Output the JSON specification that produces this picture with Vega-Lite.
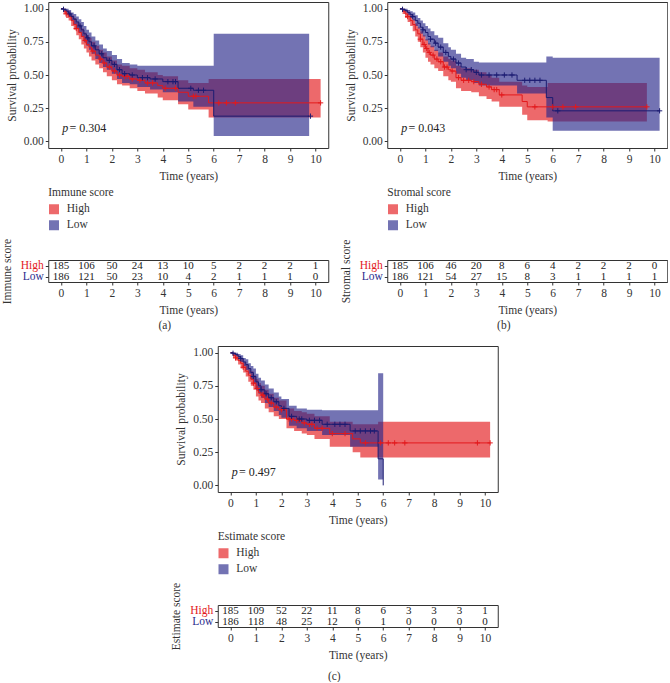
{
  "$schema": "https://vega.github.io/schema/vega-lite/v6.json",
  "padding": {"left": 0, "top": 1, "right": 0, "bottom": 0},
  "background": "white",
  "config": {
    "font": "Liberation Serif",
    "view": {"stroke": "#333", "strokeWidth": 1},
    "axis": {"domain": false, "grid": false, "tickColor": "#333", "tickSize": 3, "labelOverlap": false, "labelFont": "Liberation Serif", "labelFontSize": 11.5, "labelColor": "#333", "titleFont": "Liberation Serif", "titleFontSize": 11.5, "titleFontWeight": "normal", "titleColor": "#333", "labelPadding": 2},
    "legend": {"orient": "bottom", "direction": "vertical", "titleFont": "Liberation Serif", "titleFontSize": 11.5, "titleFontWeight": "normal", "titleColor": "#333", "labelFont": "Liberation Serif", "labelFontSize": 11.5, "labelColor": "#333", "symbolType": "square", "symbolSize": 100, "symbolOpacity": 0.65, "symbolStrokeWidth": 0, "rowPadding": 3, "titlePadding": 5, "offset": 5, "padding": 0, "labelOffset": 7},
    "title": {"font": "Liberation Serif", "fontSize": 11.5, "fontWeight": "normal", "color": "#333"}
  },
  "datasets": {
    "km": [
      {"p":"a","g":"High","t":0,"s":1,"lo":1,"hi":1},{"p":"a","g":"High","t":0.1,"s":0.98,"lo":0.96,"hi":1},{"p":"a","g":"High","t":0.2,"s":0.96,"lo":0.93,"hi":0.99},{"p":"a","g":"High","t":0.3,"s":0.94,"lo":0.91,"hi":0.97},{"p":"a","g":"High","t":0.4,"s":0.91,"lo":0.87,"hi":0.95},{"p":"a","g":"High","t":0.5,"s":0.88,"lo":0.84,"hi":0.93},{"p":"a","g":"High","t":0.6,"s":0.85,"lo":0.8,"hi":0.9},{"p":"a","g":"High","t":0.7,"s":0.82,"lo":0.77,"hi":0.88},{"p":"a","g":"High","t":0.8,"s":0.79,"lo":0.73,"hi":0.85},{"p":"a","g":"High","t":0.9,"s":0.76,"lo":0.7,"hi":0.82},{"p":"a","g":"High","t":1,"s":0.73,"lo":0.67,"hi":0.8},{"p":"a","g":"High","t":1.1,"s":0.71,"lo":0.64,"hi":0.78},{"p":"a","g":"High","t":1.2,"s":0.68,"lo":0.61,"hi":0.75},{"p":"a","g":"High","t":1.35,"s":0.65,"lo":0.58,"hi":0.72},{"p":"a","g":"High","t":1.5,"s":0.62,"lo":0.55,"hi":0.69},{"p":"a","g":"High","t":1.65,"s":0.59,"lo":0.52,"hi":0.67},{"p":"a","g":"High","t":1.8,"s":0.56,"lo":0.49,"hi":0.64},{"p":"a","g":"High","t":2,"s":0.53,"lo":0.46,"hi":0.61},{"p":"a","g":"High","t":2.2,"s":0.5,"lo":0.43,"hi":0.58},{"p":"a","g":"High","t":2.4,"s":0.49,"lo":0.42,"hi":0.57},{"p":"a","g":"High","t":2.7,"s":0.47,"lo":0.4,"hi":0.55},{"p":"a","g":"High","t":3,"s":0.46,"lo":0.38,"hi":0.54},{"p":"a","g":"High","t":3.3,"s":0.44,"lo":0.36,"hi":0.52},{"p":"a","g":"High","t":3.8,"s":0.42,"lo":0.33,"hi":0.5},{"p":"a","g":"High","t":4,"s":0.4,"lo":0.31,"hi":0.49},{"p":"a","g":"High","t":4.6,"s":0.37,"lo":0.28,"hi":0.46},{"p":"a","g":"High","t":5,"s":0.34,"lo":0.24,"hi":0.44},{"p":"a","g":"High","t":5.8,"s":0.29,"lo":0.18,"hi":0.47},{"p":"a","g":"High","t":10.2,"s":0.29,"lo":0.18,"hi":0.47},
      {"p":"a","g":"Low","t":0,"s":1,"lo":1,"hi":1},{"p":"a","g":"Low","t":0.1,"s":0.995,"lo":0.98,"hi":1},{"p":"a","g":"Low","t":0.2,"s":0.98,"lo":0.96,"hi":1},{"p":"a","g":"Low","t":0.3,"s":0.96,"lo":0.94,"hi":0.99},{"p":"a","g":"Low","t":0.4,"s":0.94,"lo":0.91,"hi":0.97},{"p":"a","g":"Low","t":0.5,"s":0.92,"lo":0.88,"hi":0.96},{"p":"a","g":"Low","t":0.6,"s":0.9,"lo":0.85,"hi":0.94},{"p":"a","g":"Low","t":0.7,"s":0.87,"lo":0.82,"hi":0.92},{"p":"a","g":"Low","t":0.8,"s":0.84,"lo":0.79,"hi":0.9},{"p":"a","g":"Low","t":0.9,"s":0.81,"lo":0.75,"hi":0.87},{"p":"a","g":"Low","t":1,"s":0.78,"lo":0.72,"hi":0.84},{"p":"a","g":"Low","t":1.1,"s":0.75,"lo":0.69,"hi":0.82},{"p":"a","g":"Low","t":1.2,"s":0.72,"lo":0.66,"hi":0.79},{"p":"a","g":"Low","t":1.35,"s":0.69,"lo":0.62,"hi":0.76},{"p":"a","g":"Low","t":1.5,"s":0.66,"lo":0.59,"hi":0.73},{"p":"a","g":"Low","t":1.65,"s":0.63,"lo":0.56,"hi":0.7},{"p":"a","g":"Low","t":1.8,"s":0.61,"lo":0.54,"hi":0.68},{"p":"a","g":"Low","t":2,"s":0.58,"lo":0.51,"hi":0.65},{"p":"a","g":"Low","t":2.2,"s":0.54,"lo":0.47,"hi":0.62},{"p":"a","g":"Low","t":2.4,"s":0.51,"lo":0.44,"hi":0.59},{"p":"a","g":"Low","t":2.7,"s":0.5,"lo":0.43,"hi":0.58},{"p":"a","g":"Low","t":3,"s":0.48,"lo":0.41,"hi":0.57},{"p":"a","g":"Low","t":3.5,"s":0.47,"lo":0.39,"hi":0.57},{"p":"a","g":"Low","t":4,"s":0.45,"lo":0.37,"hi":0.57},{"p":"a","g":"Low","t":4.6,"s":0.4,"lo":0.3,"hi":0.57},{"p":"a","g":"Low","t":5.2,"s":0.385,"lo":0.26,"hi":0.57},{"p":"a","g":"Low","t":6,"s":0.19,"lo":0.04,"hi":0.81},{"p":"a","g":"Low","t":9.75,"s":0.19,"lo":0.04,"hi":0.81},
      {"p":"b","g":"High","t":0,"s":1,"lo":1,"hi":1},{"p":"b","g":"High","t":0.1,"s":0.98,"lo":0.96,"hi":1},{"p":"b","g":"High","t":0.2,"s":0.96,"lo":0.93,"hi":0.99},{"p":"b","g":"High","t":0.3,"s":0.94,"lo":0.9,"hi":0.97},{"p":"b","g":"High","t":0.4,"s":0.91,"lo":0.87,"hi":0.95},{"p":"b","g":"High","t":0.5,"s":0.88,"lo":0.83,"hi":0.92},{"p":"b","g":"High","t":0.6,"s":0.84,"lo":0.79,"hi":0.89},{"p":"b","g":"High","t":0.7,"s":0.81,"lo":0.75,"hi":0.86},{"p":"b","g":"High","t":0.8,"s":0.77,"lo":0.71,"hi":0.83},{"p":"b","g":"High","t":0.9,"s":0.73,"lo":0.67,"hi":0.8},{"p":"b","g":"High","t":1,"s":0.7,"lo":0.63,"hi":0.77},{"p":"b","g":"High","t":1.1,"s":0.67,"lo":0.6,"hi":0.74},{"p":"b","g":"High","t":1.2,"s":0.65,"lo":0.58,"hi":0.72},{"p":"b","g":"High","t":1.35,"s":0.62,"lo":0.55,"hi":0.69},{"p":"b","g":"High","t":1.5,"s":0.6,"lo":0.53,"hi":0.67},{"p":"b","g":"High","t":1.7,"s":0.56,"lo":0.49,"hi":0.64},{"p":"b","g":"High","t":1.9,"s":0.54,"lo":0.46,"hi":0.62},{"p":"b","g":"High","t":2,"s":0.53,"lo":0.45,"hi":0.61},{"p":"b","g":"High","t":2.2,"s":0.48,"lo":0.4,"hi":0.57},{"p":"b","g":"High","t":2.4,"s":0.46,"lo":0.38,"hi":0.55},{"p":"b","g":"High","t":2.8,"s":0.45,"lo":0.37,"hi":0.54},{"p":"b","g":"High","t":3.1,"s":0.43,"lo":0.34,"hi":0.52},{"p":"b","g":"High","t":3.4,"s":0.41,"lo":0.32,"hi":0.5},{"p":"b","g":"High","t":3.6,"s":0.39,"lo":0.3,"hi":0.48},{"p":"b","g":"High","t":3.9,"s":0.35,"lo":0.26,"hi":0.45},{"p":"b","g":"High","t":4.8,"s":0.3,"lo":0.2,"hi":0.42},{"p":"b","g":"High","t":5,"s":0.26,"lo":0.16,"hi":0.41},{"p":"b","g":"High","t":5.8,"s":0.26,"lo":0.15,"hi":0.44},{"p":"b","g":"High","t":9.7,"s":0.26,"lo":0.15,"hi":0.44},
      {"p":"b","g":"Low","t":0,"s":1,"lo":1,"hi":1},{"p":"b","g":"Low","t":0.1,"s":0.995,"lo":0.98,"hi":1},{"p":"b","g":"Low","t":0.2,"s":0.985,"lo":0.97,"hi":1},{"p":"b","g":"Low","t":0.3,"s":0.97,"lo":0.95,"hi":0.99},{"p":"b","g":"Low","t":0.4,"s":0.955,"lo":0.93,"hi":0.98},{"p":"b","g":"Low","t":0.5,"s":0.94,"lo":0.91,"hi":0.97},{"p":"b","g":"Low","t":0.6,"s":0.91,"lo":0.87,"hi":0.95},{"p":"b","g":"Low","t":0.7,"s":0.89,"lo":0.85,"hi":0.93},{"p":"b","g":"Low","t":0.8,"s":0.86,"lo":0.81,"hi":0.91},{"p":"b","g":"Low","t":0.9,"s":0.84,"lo":0.79,"hi":0.89},{"p":"b","g":"Low","t":1,"s":0.82,"lo":0.76,"hi":0.87},{"p":"b","g":"Low","t":1.1,"s":0.79,"lo":0.73,"hi":0.85},{"p":"b","g":"Low","t":1.2,"s":0.77,"lo":0.71,"hi":0.83},{"p":"b","g":"Low","t":1.35,"s":0.74,"lo":0.68,"hi":0.8},{"p":"b","g":"Low","t":1.5,"s":0.71,"lo":0.64,"hi":0.78},{"p":"b","g":"Low","t":1.7,"s":0.67,"lo":0.6,"hi":0.74},{"p":"b","g":"Low","t":1.9,"s":0.64,"lo":0.57,"hi":0.71},{"p":"b","g":"Low","t":2,"s":0.62,"lo":0.55,"hi":0.69},{"p":"b","g":"Low","t":2.2,"s":0.59,"lo":0.51,"hi":0.66},{"p":"b","g":"Low","t":2.4,"s":0.56,"lo":0.48,"hi":0.63},{"p":"b","g":"Low","t":2.6,"s":0.54,"lo":0.46,"hi":0.62},{"p":"b","g":"Low","t":2.9,"s":0.52,"lo":0.44,"hi":0.6},{"p":"b","g":"Low","t":3.1,"s":0.5,"lo":0.42,"hi":0.595},{"p":"b","g":"Low","t":4.6,"s":0.46,"lo":0.36,"hi":0.595},{"p":"b","g":"Low","t":5.75,"s":0.33,"lo":0.18,"hi":0.64},{"p":"b","g":"Low","t":6,"s":0.23,"lo":0.08,"hi":0.63},{"p":"b","g":"Low","t":10.2,"s":0.23,"lo":0.08,"hi":0.63},
      {"p":"c","g":"High","t":0,"s":1,"lo":1,"hi":1},{"p":"c","g":"High","t":0.1,"s":0.98,"lo":0.96,"hi":1},{"p":"c","g":"High","t":0.2,"s":0.96,"lo":0.94,"hi":0.99},{"p":"c","g":"High","t":0.3,"s":0.94,"lo":0.91,"hi":0.97},{"p":"c","g":"High","t":0.4,"s":0.92,"lo":0.88,"hi":0.95},{"p":"c","g":"High","t":0.5,"s":0.89,"lo":0.85,"hi":0.93},{"p":"c","g":"High","t":0.6,"s":0.86,"lo":0.82,"hi":0.91},{"p":"c","g":"High","t":0.7,"s":0.83,"lo":0.78,"hi":0.88},{"p":"c","g":"High","t":0.8,"s":0.8,"lo":0.75,"hi":0.86},{"p":"c","g":"High","t":0.9,"s":0.77,"lo":0.72,"hi":0.83},{"p":"c","g":"High","t":1,"s":0.73,"lo":0.67,"hi":0.8},{"p":"c","g":"High","t":1.1,"s":0.7,"lo":0.64,"hi":0.77},{"p":"c","g":"High","t":1.2,"s":0.68,"lo":0.62,"hi":0.75},{"p":"c","g":"High","t":1.35,"s":0.65,"lo":0.58,"hi":0.72},{"p":"c","g":"High","t":1.5,"s":0.62,"lo":0.55,"hi":0.69},{"p":"c","g":"High","t":1.7,"s":0.59,"lo":0.52,"hi":0.66},{"p":"c","g":"High","t":1.9,"s":0.57,"lo":0.5,"hi":0.64},{"p":"c","g":"High","t":2.2,"s":0.5,"lo":0.43,"hi":0.58},{"p":"c","g":"High","t":2.5,"s":0.49,"lo":0.41,"hi":0.56},{"p":"c","g":"High","t":2.8,"s":0.47,"lo":0.39,"hi":0.55},{"p":"c","g":"High","t":3,"s":0.46,"lo":0.38,"hi":0.54},{"p":"c","g":"High","t":3.3,"s":0.43,"lo":0.35,"hi":0.52},{"p":"c","g":"High","t":3.9,"s":0.39,"lo":0.29,"hi":0.48},{"p":"c","g":"High","t":4.8,"s":0.35,"lo":0.25,"hi":0.46},{"p":"c","g":"High","t":5.1,"s":0.32,"lo":0.21,"hi":0.46},{"p":"c","g":"High","t":5.8,"s":0.32,"lo":0.21,"hi":0.48},{"p":"c","g":"High","t":10.2,"s":0.32,"lo":0.21,"hi":0.48},
      {"p":"c","g":"Low","t":0,"s":1,"lo":1,"hi":1},{"p":"c","g":"Low","t":0.1,"s":0.995,"lo":0.98,"hi":1},{"p":"c","g":"Low","t":0.2,"s":0.985,"lo":0.97,"hi":1},{"p":"c","g":"Low","t":0.3,"s":0.97,"lo":0.95,"hi":0.99},{"p":"c","g":"Low","t":0.4,"s":0.955,"lo":0.93,"hi":0.98},{"p":"c","g":"Low","t":0.5,"s":0.93,"lo":0.9,"hi":0.96},{"p":"c","g":"Low","t":0.6,"s":0.91,"lo":0.87,"hi":0.95},{"p":"c","g":"Low","t":0.7,"s":0.88,"lo":0.84,"hi":0.92},{"p":"c","g":"Low","t":0.8,"s":0.85,"lo":0.8,"hi":0.9},{"p":"c","g":"Low","t":0.9,"s":0.82,"lo":0.77,"hi":0.88},{"p":"c","g":"Low","t":1,"s":0.78,"lo":0.72,"hi":0.84},{"p":"c","g":"Low","t":1.1,"s":0.75,"lo":0.69,"hi":0.81},{"p":"c","g":"Low","t":1.2,"s":0.72,"lo":0.66,"hi":0.79},{"p":"c","g":"Low","t":1.35,"s":0.69,"lo":0.62,"hi":0.76},{"p":"c","g":"Low","t":1.5,"s":0.66,"lo":0.59,"hi":0.73},{"p":"c","g":"Low","t":1.7,"s":0.63,"lo":0.56,"hi":0.7},{"p":"c","g":"Low","t":1.9,"s":0.6,"lo":0.53,"hi":0.67},{"p":"c","g":"Low","t":2,"s":0.58,"lo":0.51,"hi":0.65},{"p":"c","g":"Low","t":2.3,"s":0.52,"lo":0.45,"hi":0.6},{"p":"c","g":"Low","t":2.6,"s":0.5,"lo":0.43,"hi":0.58},{"p":"c","g":"Low","t":3,"s":0.49,"lo":0.41,"hi":0.57},{"p":"c","g":"Low","t":3.6,"s":0.46,"lo":0.38,"hi":0.565},{"p":"c","g":"Low","t":4.7,"s":0.41,"lo":0.29,"hi":0.565},{"p":"c","g":"Low","t":5.8,"s":0.2,"lo":0.045,"hi":0.845},{"p":"c","g":"Low","t":6,"s":0,"lo":0,"hi":0}
    ],
    "cens": [
      {"p":"a","g":"High","t":0.2,"s":0.96},{"p":"a","g":"High","t":0.6,"s":0.85},{"p":"a","g":"High","t":0.95,"s":0.76},{"p":"a","g":"High","t":1.25,"s":0.68},{"p":"a","g":"High","t":1.55,"s":0.62},{"p":"a","g":"High","t":1.7,"s":0.59},{"p":"a","g":"High","t":1.9,"s":0.56},{"p":"a","g":"High","t":2.1,"s":0.53},{"p":"a","g":"High","t":2.3,"s":0.5},{"p":"a","g":"High","t":2.5,"s":0.49},{"p":"a","g":"High","t":2.6,"s":0.49},{"p":"a","g":"High","t":2.8,"s":0.47},{"p":"a","g":"High","t":3.1,"s":0.46},{"p":"a","g":"High","t":3.4,"s":0.44},{"p":"a","g":"High","t":3.6,"s":0.44},{"p":"a","g":"High","t":4.1,"s":0.4},{"p":"a","g":"High","t":4.5,"s":0.4},{"p":"a","g":"High","t":5.2,"s":0.34},{"p":"a","g":"High","t":5.3,"s":0.34},{"p":"a","g":"High","t":6.2,"s":0.29},{"p":"a","g":"High","t":6.5,"s":0.29},{"p":"a","g":"High","t":6.85,"s":0.29},{"p":"a","g":"High","t":10.2,"s":0.29},
      {"p":"a","g":"Low","t":0.1,"s":0.995},{"p":"a","g":"Low","t":0.35,"s":0.96},{"p":"a","g":"Low","t":0.75,"s":0.87},{"p":"a","g":"Low","t":1.05,"s":0.78},{"p":"a","g":"Low","t":1.3,"s":0.72},{"p":"a","g":"Low","t":1.6,"s":0.66},{"p":"a","g":"Low","t":1.9,"s":0.61},{"p":"a","g":"Low","t":2.1,"s":0.58},{"p":"a","g":"Low","t":2.3,"s":0.54},{"p":"a","g":"Low","t":2.5,"s":0.51},{"p":"a","g":"Low","t":2.8,"s":0.5},{"p":"a","g":"Low","t":3.2,"s":0.48},{"p":"a","g":"Low","t":3.4,"s":0.48},{"p":"a","g":"Low","t":3.7,"s":0.47},{"p":"a","g":"Low","t":4.2,"s":0.45},{"p":"a","g":"Low","t":4.4,"s":0.45},{"p":"a","g":"Low","t":4.5,"s":0.45},{"p":"a","g":"Low","t":5.1,"s":0.4},{"p":"a","g":"Low","t":5.4,"s":0.385},{"p":"a","g":"Low","t":5.6,"s":0.385},{"p":"a","g":"Low","t":9.8,"s":0.19},
      {"p":"b","g":"High","t":0.3,"s":0.94},{"p":"b","g":"High","t":0.8,"s":0.77},{"p":"b","g":"High","t":0.95,"s":0.73},{"p":"b","g":"High","t":1.05,"s":0.7},{"p":"b","g":"High","t":1.15,"s":0.67},{"p":"b","g":"High","t":1.3,"s":0.65},{"p":"b","g":"High","t":1.45,"s":0.62},{"p":"b","g":"High","t":1.6,"s":0.6},{"p":"b","g":"High","t":1.75,"s":0.56},{"p":"b","g":"High","t":1.85,"s":0.56},{"p":"b","g":"High","t":2.05,"s":0.53},{"p":"b","g":"High","t":2.3,"s":0.48},{"p":"b","g":"High","t":2.5,"s":0.46},{"p":"b","g":"High","t":2.7,"s":0.46},{"p":"b","g":"High","t":2.9,"s":0.45},{"p":"b","g":"High","t":3.2,"s":0.43},{"p":"b","g":"High","t":3.5,"s":0.41},{"p":"b","g":"High","t":3.7,"s":0.39},{"p":"b","g":"High","t":3.8,"s":0.39},{"p":"b","g":"High","t":4,"s":0.35},{"p":"b","g":"High","t":5.3,"s":0.26},{"p":"b","g":"High","t":6,"s":0.26},{"p":"b","g":"High","t":6.4,"s":0.26},{"p":"b","g":"High","t":6.9,"s":0.26},{"p":"b","g":"High","t":9.7,"s":0.26},
      {"p":"b","g":"Low","t":0.1,"s":0.995},{"p":"b","g":"Low","t":0.5,"s":0.94},{"p":"b","g":"Low","t":0.9,"s":0.84},{"p":"b","g":"Low","t":1.2,"s":0.77},{"p":"b","g":"Low","t":1.4,"s":0.74},{"p":"b","g":"Low","t":1.6,"s":0.71},{"p":"b","g":"Low","t":1.8,"s":0.67},{"p":"b","g":"Low","t":2.1,"s":0.62},{"p":"b","g":"Low","t":2.3,"s":0.59},{"p":"b","g":"Low","t":2.6,"s":0.54},{"p":"b","g":"Low","t":2.8,"s":0.54},{"p":"b","g":"Low","t":3,"s":0.52},{"p":"b","g":"Low","t":3.2,"s":0.5},{"p":"b","g":"Low","t":3.5,"s":0.5},{"p":"b","g":"Low","t":3.8,"s":0.5},{"p":"b","g":"Low","t":4.1,"s":0.5},{"p":"b","g":"Low","t":4.4,"s":0.5},{"p":"b","g":"Low","t":4.9,"s":0.46},{"p":"b","g":"Low","t":5.1,"s":0.46},{"p":"b","g":"Low","t":5.3,"s":0.46},{"p":"b","g":"Low","t":5.5,"s":0.46},{"p":"b","g":"Low","t":6.2,"s":0.23},{"p":"b","g":"Low","t":10.2,"s":0.23},
      {"p":"c","g":"High","t":0.2,"s":0.96},{"p":"c","g":"High","t":0.5,"s":0.89},{"p":"c","g":"High","t":0.9,"s":0.77},{"p":"c","g":"High","t":1.05,"s":0.73},{"p":"c","g":"High","t":1.25,"s":0.68},{"p":"c","g":"High","t":1.3,"s":0.68},{"p":"c","g":"High","t":1.45,"s":0.65},{"p":"c","g":"High","t":1.6,"s":0.62},{"p":"c","g":"High","t":1.8,"s":0.59},{"p":"c","g":"High","t":2,"s":0.57},{"p":"c","g":"High","t":2.3,"s":0.5},{"p":"c","g":"High","t":2.4,"s":0.5},{"p":"c","g":"High","t":2.6,"s":0.49},{"p":"c","g":"High","t":2.7,"s":0.49},{"p":"c","g":"High","t":2.9,"s":0.47},{"p":"c","g":"High","t":3.1,"s":0.46},{"p":"c","g":"High","t":3.2,"s":0.46},{"p":"c","g":"High","t":3.4,"s":0.43},{"p":"c","g":"High","t":3.6,"s":0.43},{"p":"c","g":"High","t":4,"s":0.39},{"p":"c","g":"High","t":4.5,"s":0.39},{"p":"c","g":"High","t":5.3,"s":0.32},{"p":"c","g":"High","t":5.9,"s":0.32},{"p":"c","g":"High","t":6.2,"s":0.32},{"p":"c","g":"High","t":6.45,"s":0.32},{"p":"c","g":"High","t":6.85,"s":0.32},{"p":"c","g":"High","t":9.7,"s":0.32},{"p":"c","g":"High","t":10.2,"s":0.32},
      {"p":"c","g":"Low","t":0.1,"s":0.995},{"p":"c","g":"Low","t":0.4,"s":0.955},{"p":"c","g":"Low","t":0.9,"s":0.82},{"p":"c","g":"Low","t":1.2,"s":0.72},{"p":"c","g":"Low","t":1.4,"s":0.69},{"p":"c","g":"Low","t":1.6,"s":0.66},{"p":"c","g":"Low","t":1.8,"s":0.63},{"p":"c","g":"Low","t":2.1,"s":0.58},{"p":"c","g":"Low","t":2.4,"s":0.52},{"p":"c","g":"Low","t":2.7,"s":0.5},{"p":"c","g":"Low","t":2.8,"s":0.5},{"p":"c","g":"Low","t":3.1,"s":0.49},{"p":"c","g":"Low","t":3.3,"s":0.49},{"p":"c","g":"Low","t":3.5,"s":0.49},{"p":"c","g":"Low","t":3.8,"s":0.46},{"p":"c","g":"Low","t":4.1,"s":0.46},{"p":"c","g":"Low","t":4.3,"s":0.46},{"p":"c","g":"Low","t":4.5,"s":0.46},{"p":"c","g":"Low","t":4.9,"s":0.41},{"p":"c","g":"Low","t":5.1,"s":0.41},{"p":"c","g":"Low","t":5.3,"s":0.41},{"p":"c","g":"Low","t":5.5,"s":0.41},{"p":"c","g":"Low","t":5.65,"s":0.41}
    ],
    "pv": [
      {"p":"a","k":"p","t":0.05,"s":0.1,"txt":"p"},{"p":"a","k":"v","t":0.33,"s":0.1,"txt":"= 0.304"},
      {"p":"b","k":"p","t":0.05,"s":0.1,"txt":"p"},{"p":"b","k":"v","t":0.33,"s":0.1,"txt":"= 0.043"},
      {"p":"c","k":"p","t":0.05,"s":0.1,"txt":"p"},{"p":"c","k":"v","t":0.33,"s":0.1,"txt":"= 0.497"}
    ],
    "risk": [
      {"p":"a","g":"High","t":0,"n":185},{"p":"a","g":"High","t":1,"n":106},{"p":"a","g":"High","t":2,"n":50},{"p":"a","g":"High","t":3,"n":24},{"p":"a","g":"High","t":4,"n":13},{"p":"a","g":"High","t":5,"n":10},{"p":"a","g":"High","t":6,"n":5},{"p":"a","g":"High","t":7,"n":2},{"p":"a","g":"High","t":8,"n":2},{"p":"a","g":"High","t":9,"n":2},{"p":"a","g":"High","t":10,"n":1},
      {"p":"a","g":"Low","t":0,"n":186},{"p":"a","g":"Low","t":1,"n":121},{"p":"a","g":"Low","t":2,"n":50},{"p":"a","g":"Low","t":3,"n":23},{"p":"a","g":"Low","t":4,"n":10},{"p":"a","g":"Low","t":5,"n":4},{"p":"a","g":"Low","t":6,"n":2},{"p":"a","g":"Low","t":7,"n":1},{"p":"a","g":"Low","t":8,"n":1},{"p":"a","g":"Low","t":9,"n":1},{"p":"a","g":"Low","t":10,"n":0},
      {"p":"b","g":"High","t":0,"n":185},{"p":"b","g":"High","t":1,"n":106},{"p":"b","g":"High","t":2,"n":46},{"p":"b","g":"High","t":3,"n":20},{"p":"b","g":"High","t":4,"n":8},{"p":"b","g":"High","t":5,"n":6},{"p":"b","g":"High","t":6,"n":4},{"p":"b","g":"High","t":7,"n":2},{"p":"b","g":"High","t":8,"n":2},{"p":"b","g":"High","t":9,"n":2},{"p":"b","g":"High","t":10,"n":0},
      {"p":"b","g":"Low","t":0,"n":186},{"p":"b","g":"Low","t":1,"n":121},{"p":"b","g":"Low","t":2,"n":54},{"p":"b","g":"Low","t":3,"n":27},{"p":"b","g":"Low","t":4,"n":15},{"p":"b","g":"Low","t":5,"n":8},{"p":"b","g":"Low","t":6,"n":3},{"p":"b","g":"Low","t":7,"n":1},{"p":"b","g":"Low","t":8,"n":1},{"p":"b","g":"Low","t":9,"n":1},{"p":"b","g":"Low","t":10,"n":1},
      {"p":"c","g":"High","t":0,"n":185},{"p":"c","g":"High","t":1,"n":109},{"p":"c","g":"High","t":2,"n":52},{"p":"c","g":"High","t":3,"n":22},{"p":"c","g":"High","t":4,"n":11},{"p":"c","g":"High","t":5,"n":8},{"p":"c","g":"High","t":6,"n":6},{"p":"c","g":"High","t":7,"n":3},{"p":"c","g":"High","t":8,"n":3},{"p":"c","g":"High","t":9,"n":3},{"p":"c","g":"High","t":10,"n":1},
      {"p":"c","g":"Low","t":0,"n":186},{"p":"c","g":"Low","t":1,"n":118},{"p":"c","g":"Low","t":2,"n":48},{"p":"c","g":"Low","t":3,"n":25},{"p":"c","g":"Low","t":4,"n":12},{"p":"c","g":"Low","t":5,"n":6},{"p":"c","g":"Low","t":6,"n":1},{"p":"c","g":"Low","t":7,"n":0},{"p":"c","g":"Low","t":8,"n":0},{"p":"c","g":"Low","t":9,"n":0},{"p":"c","g":"Low","t":10,"n":0}
    ]
  },
  "center": true,
  "spacing": 14,
  "resolve": {"scale": {"fill": "independent", "stroke": "independent"}, "legend": {"fill": "independent", "stroke": "independent"}},
  "vconcat": [
    {
      "spacing": 10,
      "resolve": {"scale": {"fill": "independent", "stroke": "independent"}, "legend": {"fill": "independent", "stroke": "independent"}},
      "hconcat": [
        {
          "title": {"text": "(a)", "orient": "bottom", "anchor": "middle", "offset": 3},
          "spacing": 112,
          "bounds": "flush",
          "resolve": {"scale": {"fill": "independent", "stroke": "independent"}, "legend": {"fill": "independent", "stroke": "independent"}},
          "vconcat": [
            {
              "width": 280, "height": 146,
              "encoding": {
                "x": {"field": "t", "type": "quantitative", "scale": {"domain": [-0.5, 10.5], "nice": false, "zero": false}, "axis": {"values": [0,1,2,3,4,5,6,7,8,9,10], "title": "Time (years)", "titlePadding": 6}},
                "y": {"field": "s", "type": "quantitative", "scale": {"domain": [-0.05, 1.05], "nice": false}, "axis": {"values": [0, 0.25, 0.5, 0.75, 1], "format": ".2f", "title": "Survival probability", "titlePadding": 6}}
              },
              "layer": [
                {"data": {"name": "km"}, "transform": [{"filter": "datum.p=='a'"}], "mark": {"type": "area", "interpolate": "step-after", "opacity": 0.65},
                 "encoding": {
                   "y": {"field": "lo", "type": "quantitative", "scale": {"domain": [-0.05, 1.05], "nice": false}, "axis": {"values": [0, 0.25, 0.5, 0.75, 1], "format": ".2f", "title": "Survival probability", "titlePadding": 6}},
                   "y2": {"field": "hi"},
                   "fill": {"field": "g", "type": "nominal", "scale": {"domain": ["High", "Low"], "range": ["#E3191C", "#28288A"]}, "legend": {"title": "Immune score"}}
                 }},
                {"data": {"name": "km"}, "transform": [{"filter": "datum.p=='a'"}], "mark": {"type": "line", "interpolate": "step-after", "strokeWidth": 1},
                 "encoding": {"stroke": {"field": "g", "type": "nominal", "scale": {"domain": ["High", "Low"], "range": ["#E3191C", "#1C1C72"]}, "legend": null}}},
                {"data": {"name": "cens"}, "transform": [{"filter": "datum.p=='a'"}], "mark": {"type": "point", "shape": "M-1,0H1M0,-1V1", "size": 28, "strokeWidth": 1, "filled": false, "opacity": 1},
                 "encoding": {"stroke": {"field": "g", "type": "nominal", "legend": null}}},
                {"data": {"name": "pv"}, "transform": [{"filter": "datum.p=='a' && datum.k=='p'"}], "mark": {"type": "text", "fontStyle": "italic", "fontSize": 12, "align": "left", "color": "#222"},
                 "encoding": {"text": {"field": "txt"}}},
                {"data": {"name": "pv"}, "transform": [{"filter": "datum.p=='a' && datum.k=='v'"}], "mark": {"type": "text", "fontSize": 12, "align": "left", "color": "#222"},
                 "encoding": {"text": {"field": "txt"}}}
              ]
            },
            {
              "width": 280, "height": 22,
              "data": {"name": "risk"}, "transform": [{"filter": "datum.p=='a'"}],
              "mark": {"type": "text", "fontSize": 11, "color": "#222"},
              "encoding": {
                "x": {"field": "t", "type": "quantitative", "scale": {"domain": [-0.5, 10.5], "nice": false, "zero": false}, "axis": {"values": [0,1,2,3,4,5,6,7,8,9,10], "title": "Time (years)", "titlePadding": 6}},
                "y": {"field": "g", "type": "nominal", "scale": {"domain": ["High", "Low"]}, "axis": {"title": "Immune score", "labelFontSize": 11.5, "titlePadding": 8, "labelColor": {"condition": {"test": "datum.value === 'High'", "value": "#E3191C"}, "value": "#2B2B8C"}}},
                "text": {"field": "n"}
              }
            }
          ]
        },
        {
          "title": {"text": "(b)", "orient": "bottom", "anchor": "middle", "offset": 3},
          "spacing": 112,
          "bounds": "flush",
          "resolve": {"scale": {"fill": "independent", "stroke": "independent"}, "legend": {"fill": "independent", "stroke": "independent"}},
          "vconcat": [
            {
              "width": 280, "height": 146,
              "encoding": {
                "x": {"field": "t", "type": "quantitative", "scale": {"domain": [-0.5, 10.5], "nice": false, "zero": false}, "axis": {"values": [0,1,2,3,4,5,6,7,8,9,10], "title": "Time (years)", "titlePadding": 6}},
                "y": {"field": "s", "type": "quantitative", "scale": {"domain": [-0.05, 1.05], "nice": false}, "axis": {"values": [0, 0.25, 0.5, 0.75, 1], "format": ".2f", "title": "Survival probability", "titlePadding": 6}}
              },
              "layer": [
                {"data": {"name": "km"}, "transform": [{"filter": "datum.p=='b'"}], "mark": {"type": "area", "interpolate": "step-after", "opacity": 0.65},
                 "encoding": {
                   "y": {"field": "lo", "type": "quantitative", "scale": {"domain": [-0.05, 1.05], "nice": false}, "axis": {"values": [0, 0.25, 0.5, 0.75, 1], "format": ".2f", "title": "Survival probability", "titlePadding": 6}},
                   "y2": {"field": "hi"},
                   "fill": {"field": "g", "type": "nominal", "scale": {"domain": ["High", "Low"], "range": ["#E3191C", "#28288A"]}, "legend": {"title": "Stromal score"}}
                 }},
                {"data": {"name": "km"}, "transform": [{"filter": "datum.p=='b'"}], "mark": {"type": "line", "interpolate": "step-after", "strokeWidth": 1},
                 "encoding": {"stroke": {"field": "g", "type": "nominal", "scale": {"domain": ["High", "Low"], "range": ["#E3191C", "#1C1C72"]}, "legend": null}}},
                {"data": {"name": "cens"}, "transform": [{"filter": "datum.p=='b'"}], "mark": {"type": "point", "shape": "M-1,0H1M0,-1V1", "size": 28, "strokeWidth": 1, "filled": false, "opacity": 1},
                 "encoding": {"stroke": {"field": "g", "type": "nominal", "legend": null}}},
                {"data": {"name": "pv"}, "transform": [{"filter": "datum.p=='b' && datum.k=='p'"}], "mark": {"type": "text", "fontStyle": "italic", "fontSize": 12, "align": "left", "color": "#222"},
                 "encoding": {"text": {"field": "txt"}}},
                {"data": {"name": "pv"}, "transform": [{"filter": "datum.p=='b' && datum.k=='v'"}], "mark": {"type": "text", "fontSize": 12, "align": "left", "color": "#222"},
                 "encoding": {"text": {"field": "txt"}}}
              ]
            },
            {
              "width": 280, "height": 22,
              "data": {"name": "risk"}, "transform": [{"filter": "datum.p=='b'"}],
              "mark": {"type": "text", "fontSize": 11, "color": "#222"},
              "encoding": {
                "x": {"field": "t", "type": "quantitative", "scale": {"domain": [-0.5, 10.5], "nice": false, "zero": false}, "axis": {"values": [0,1,2,3,4,5,6,7,8,9,10], "title": "Time (years)", "titlePadding": 6}},
                "y": {"field": "g", "type": "nominal", "scale": {"domain": ["High", "Low"]}, "axis": {"title": "Stromal score", "labelFontSize": 11.5, "titlePadding": 8, "labelColor": {"condition": {"test": "datum.value === 'High'", "value": "#E3191C"}, "value": "#2B2B8C"}}},
                "text": {"field": "n"}
              }
            }
          ]
        }
      ]
    },
    {
      "title": {"text": "(c)", "orient": "bottom", "anchor": "middle", "offset": 9},
      "spacing": 113,
      "bounds": "flush",
      "resolve": {"scale": {"fill": "independent", "stroke": "independent"}, "legend": {"fill": "independent", "stroke": "independent"}},
      "vconcat": [
        {
          "width": 280, "height": 146,
          "encoding": {
            "x": {"field": "t", "type": "quantitative", "scale": {"domain": [-0.5, 10.5], "nice": false, "zero": false}, "axis": {"values": [0,1,2,3,4,5,6,7,8,9,10], "title": "Time (years)", "titlePadding": 6}},
            "y": {"field": "s", "type": "quantitative", "scale": {"domain": [-0.05, 1.05], "nice": false}, "axis": {"values": [0, 0.25, 0.5, 0.75, 1], "format": ".2f", "title": "Survival probability", "titlePadding": 6}}
          },
          "layer": [
            {"data": {"name": "km"}, "transform": [{"filter": "datum.p=='c'"}], "mark": {"type": "area", "interpolate": "step-after", "opacity": 0.65},
             "encoding": {
               "y": {"field": "lo", "type": "quantitative", "scale": {"domain": [-0.05, 1.05], "nice": false}, "axis": {"values": [0, 0.25, 0.5, 0.75, 1], "format": ".2f", "title": "Survival probability", "titlePadding": 6}},
               "y2": {"field": "hi"},
               "fill": {"field": "g", "type": "nominal", "scale": {"domain": ["High", "Low"], "range": ["#E3191C", "#28288A"]}, "legend": {"title": "Estimate score"}}
             }},
            {"data": {"name": "km"}, "transform": [{"filter": "datum.p=='c'"}], "mark": {"type": "line", "interpolate": "step-after", "strokeWidth": 1},
             "encoding": {"stroke": {"field": "g", "type": "nominal", "scale": {"domain": ["High", "Low"], "range": ["#E3191C", "#1C1C72"]}, "legend": null}}},
            {"data": {"name": "cens"}, "transform": [{"filter": "datum.p=='c'"}], "mark": {"type": "point", "shape": "M-1,0H1M0,-1V1", "size": 28, "strokeWidth": 1, "filled": false, "opacity": 1},
             "encoding": {"stroke": {"field": "g", "type": "nominal", "legend": null}}},
            {"data": {"name": "pv"}, "transform": [{"filter": "datum.p=='c' && datum.k=='p'"}], "mark": {"type": "text", "fontStyle": "italic", "fontSize": 12, "align": "left", "color": "#222"},
             "encoding": {"text": {"field": "txt"}}},
            {"data": {"name": "pv"}, "transform": [{"filter": "datum.p=='c' && datum.k=='v'"}], "mark": {"type": "text", "fontSize": 12, "align": "left", "color": "#222"},
             "encoding": {"text": {"field": "txt"}}}
          ]
        },
        {
          "width": 280, "height": 22,
          "data": {"name": "risk"}, "transform": [{"filter": "datum.p=='c'"}],
          "mark": {"type": "text", "fontSize": 11, "color": "#222"},
          "encoding": {
            "x": {"field": "t", "type": "quantitative", "scale": {"domain": [-0.5, 10.5], "nice": false, "zero": false}, "axis": {"values": [0,1,2,3,4,5,6,7,8,9,10], "title": "Time (years)", "titlePadding": 6}},
            "y": {"field": "g", "type": "nominal", "scale": {"domain": ["High", "Low"]}, "axis": {"title": "Estimate score", "labelFontSize": 11.5, "titlePadding": 8, "labelColor": {"condition": {"test": "datum.value === 'High'", "value": "#E3191C"}, "value": "#2B2B8C"}}},
            "text": {"field": "n"}
          }
        }
      ]
    }
  ]
}
